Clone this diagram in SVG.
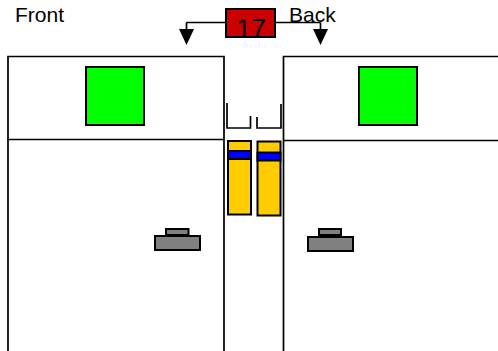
<svg xmlns="http://www.w3.org/2000/svg" width="498" height="351" viewBox="0 0 498 351">
<defs>
<style>
.l{fill:none;stroke:#000;stroke-width:1.7}
.g{fill:#0f0;stroke:#000;stroke-width:2}
.y{fill:#fc0;stroke:#000;stroke-width:2}
.b{fill:#00f;stroke:#000;stroke-width:2}
.h{fill:#808080;stroke:#000;stroke-width:2}
text{font-family:"Liberation Sans",Arial,sans-serif;fill:#000}
</style>
</defs>
<rect width="498" height="351" fill="#fff"/>
<g id="connectors">
<path class="l" d="M186.500 22.500H226M275 22.500H320.500M186.500 22.500V31M320.500 22.500V31"/>
<polygon points="179,29 194,29 186.500,45"/>
<polygon points="313,29 328,29 320.500,45"/>
</g>
<g id="front-label"><text x="15" y="22" font-size="21">Front</text></g>
<g id="back-label"><text x="289" y="22" font-size="21">Back</text></g>
<g id="badge"><rect x="226" y="9" width="49" height="28" fill="#c00" stroke="#000" stroke-width="2"/><text x="251" y="38" font-size="27" text-anchor="middle">17</text></g>
<g id="front-panel"><path class="l" d="M8 351V56.500H224V351M7 139.500H224"/></g>
<g id="back-panel"><path class="l" d="M283.500 351V56.500H498M283.500 140.500H498"/></g>
<g id="front-green"><rect class="g" x="86" y="67" width="58" height="58"/></g>
<g id="back-green"><rect class="g" x="359" y="67" width="58" height="58"/></g>
<g id="bracket-left"><path class="l" d="M227 103V128H250.500V116"/></g>
<g id="bracket-right"><path class="l" d="M257 117V128H281V104"/></g>
<g id="slot-left"><rect class="y" x="228" y="141" width="23" height="73.500"/><rect class="b" x="228" y="151" width="23" height="8"/></g>
<g id="slot-right"><rect class="y" x="257.500" y="141.500" width="23" height="74"/><rect class="b" x="257.500" y="152.500" width="23" height="8"/></g>
<g id="front-handle"><rect class="h" x="166" y="229" width="22.500" height="6"/><rect class="h" x="155" y="236" width="45" height="14"/></g>
<g id="back-handle"><rect class="h" x="319" y="229" width="22" height="6"/><rect class="h" x="308" y="237" width="45" height="14"/></g>
</svg>
